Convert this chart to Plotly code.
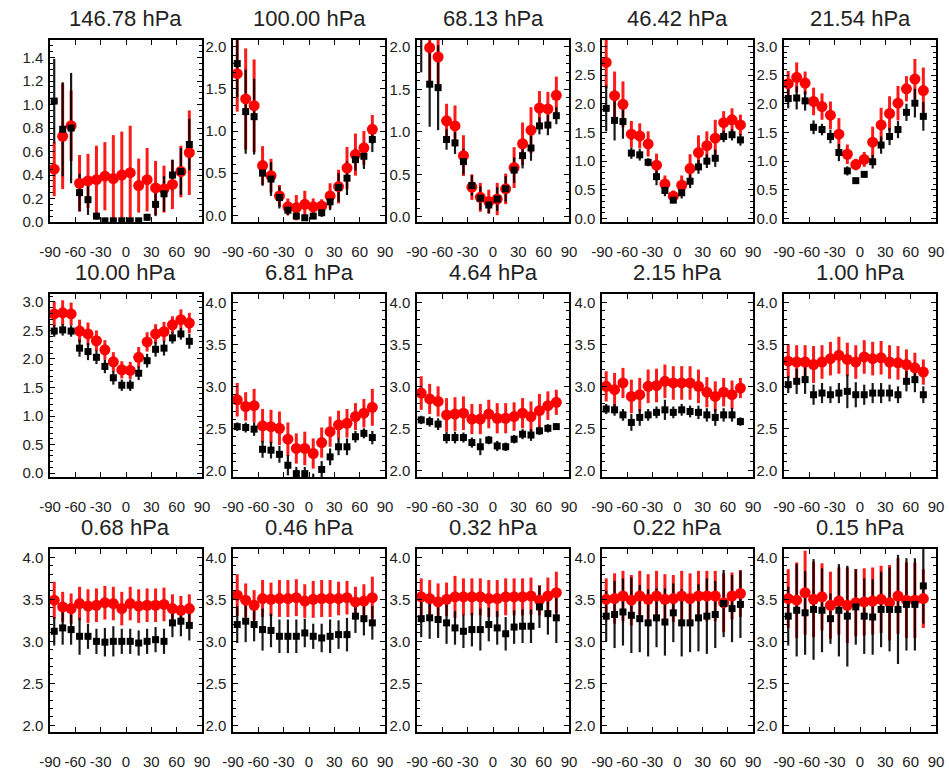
import plotly.graph_objects as go

W, H = 949, 770

lat = [-85, -75, -65, -55, -45, -35, -25, -15, -5, 5, 15, 25, 35, 45, 55, 65, 75]
levels = ["146.78 hPa", "100.00 hPa", "68.13 hPa", "46.42 hPa", "21.54 hPa",
          "10.00 hPa", "6.81 hPa", "4.64 hPa", "2.15 hPa", "1.00 hPa",
          "0.68 hPa", "0.46 hPa", "0.32 hPa", "0.22 hPa", "0.15 hPa"]
x_ticks = [-90, -60, -30, 0, 30, 60, 90]

# 146.78 hPa
p1_red = [0.45, 0.73, 0.82, 0.33, 0.35, 0.36, 0.39, 0.37, 0.40, 0.42, 0.31, 0.36, 0.29, 0.28, 0.32, 0.43, 0.59]
p1_red_err = [0.23, 0.45, 0.30, 0.24, 0.23, 0.29, 0.29, 0.37, 0.37, 0.40, 0.23, 0.27, 0.23, 0.20, 0.21, 0.22, 0.36]
p1_blk = [1.03, 0.79, 0.80, 0.25, 0.19, 0.05, 0.01, 0.01, 0.01, 0.01, 0.01, 0.04, 0.15, 0.24, 0.40, 0.43, 0.66]
p1_blk_err = [0.36, 0.40, 0.47, 0.16, 0.13, 0.03, 0.0, 0.0, 0.0, 0.0, 0.0, 0.03, 0.10, 0.15, 0.13, 0.20, 0.22]
# 100.00 hPa
p2_red = [1.68, 1.38, 1.30, 0.59, 0.47, 0.23, 0.10, 0.09, 0.13, 0.10, 0.11, 0.23, 0.34, 0.56, 0.72, 0.80, 1.02]
p2_red_err = [0.45, 0.60, 0.55, 0.23, 0.20, 0.13, 0.10, 0.15, 0.16, 0.10, 0.08, 0.15, 0.20, 0.25, 0.25, 0.20, 0.17]
p2_blk = [1.80, 1.23, 1.17, 0.50, 0.43, 0.21, 0.06, -0.01, -0.03, -0.01, 0.03, 0.16, 0.33, 0.44, 0.66, 0.70, 0.90]
p2_blk_err = [0.40, 0.50, 0.45, 0.15, 0.20, 0.13, 0.06, 0.02, 0.02, 0.02, 0.05, 0.10, 0.17, 0.20, 0.13, 0.15, 0.15]
# 68.13 hPa
p3_red = [2.70, 1.99, 1.88, 1.13, 1.07, 0.72, 0.35, 0.23, 0.18, 0.21, 0.33, 0.58, 0.86, 1.02, 1.28, 1.27, 1.43]
p3_red_err = [0.50, 0.40, 0.35, 0.20, 0.24, 0.24, 0.15, 0.17, 0.14, 0.19, 0.18, 0.24, 0.25, 0.27, 0.20, 0.20, 0.22]
p3_blk = [2.35, 1.56, 1.52, 0.91, 0.87, 0.65, 0.37, 0.22, 0.14, 0.21, 0.33, 0.55, 0.72, 0.81, 1.07, 1.08, 1.19]
p3_blk_err = [0.65, 0.50, 0.50, 0.12, 0.13, 0.15, 0.12, 0.14, 0.10, 0.14, 0.15, 0.15, 0.15, 0.15, 0.10, 0.12, 0.10]
# 46.42 hPa
p4_red = [2.72, 2.14, 1.99, 1.47, 1.44, 1.30, 0.93, 0.60, 0.39, 0.58, 0.87, 1.15, 1.27, 1.40, 1.67, 1.72, 1.63]
p4_red_err = [0.45, 0.42, 0.40, 0.23, 0.22, 0.22, 0.20, 0.15, 0.10, 0.17, 0.25, 0.30, 0.25, 0.32, 0.20, 0.20, 0.18]
p4_blk = [1.92, 1.71, 1.69, 1.14, 1.11, 0.98, 0.73, 0.49, 0.32, 0.45, 0.65, 0.90, 1.00, 1.05, 1.43, 1.46, 1.37]
p4_blk_err = [0.40, 0.35, 0.30, 0.10, 0.10, 0.07, 0.15, 0.10, 0.03, 0.10, 0.12, 0.12, 0.12, 0.15, 0.10, 0.10, 0.10]
# 21.54 hPa
p5_red = [2.35, 2.46, 2.36, 2.04, 1.95, 1.80, 1.47, 1.12, 0.94, 1.03, 1.33, 1.63, 1.83, 2.01, 2.26, 2.43, 2.23]
p5_red_err = [0.22, 0.26, 0.20, 0.24, 0.23, 0.24, 0.28, 0.17, 0.10, 0.13, 0.27, 0.30, 0.30, 0.30, 0.22, 0.35, 0.40]
p5_blk = [2.09, 2.10, 2.05, 1.59, 1.55, 1.43, 1.15, 0.83, 0.66, 0.77, 0.99, 1.28, 1.43, 1.55, 1.85, 2.01, 1.78]
p5_blk_err = [0.17, 0.20, 0.17, 0.12, 0.10, 0.12, 0.15, 0.08, 0.03, 0.05, 0.12, 0.15, 0.15, 0.15, 0.15, 0.25, 0.25]
# 10.00 hPa
p6_red = [2.79, 2.81, 2.79, 2.49, 2.44, 2.32, 2.16, 1.95, 1.81, 1.80, 2.03, 2.30, 2.44, 2.48, 2.60, 2.69, 2.63]
p6_red_err = [0.22, 0.22, 0.20, 0.20, 0.20, 0.18, 0.17, 0.17, 0.15, 0.15, 0.18, 0.17, 0.17, 0.17, 0.15, 0.18, 0.18]
p6_blk = [2.49, 2.51, 2.49, 2.19, 2.13, 2.03, 1.87, 1.67, 1.54, 1.54, 1.75, 1.97, 2.17, 2.19, 2.37, 2.44, 2.31]
p6_blk_err = [0.10, 0.10, 0.10, 0.15, 0.15, 0.12, 0.12, 0.12, 0.10, 0.10, 0.12, 0.12, 0.13, 0.13, 0.10, 0.10, 0.13]
# 6.81 hPa
p7_red = [2.84, 2.76, 2.77, 2.53, 2.52, 2.50, 2.37, 2.26, 2.26, 2.20, 2.33, 2.46, 2.54, 2.56, 2.64, 2.68, 2.75]
p7_red_err = [0.20, 0.17, 0.20, 0.20, 0.20, 0.20, 0.20, 0.18, 0.20, 0.18, 0.18, 0.18, 0.17, 0.17, 0.16, 0.17, 0.22]
p7_blk = [2.52, 2.51, 2.49, 2.25, 2.24, 2.19, 2.06, 1.96, 1.96, 1.86, 2.01, 2.16, 2.28, 2.28, 2.40, 2.44, 2.39]
p7_blk_err = [0.05, 0.06, 0.08, 0.10, 0.10, 0.10, 0.12, 0.08, 0.08, 0.10, 0.10, 0.10, 0.10, 0.10, 0.07, 0.06, 0.08]
# 4.64 hPa
p8_red = [2.92, 2.85, 2.82, 2.66, 2.67, 2.68, 2.61, 2.61, 2.67, 2.62, 2.62, 2.64, 2.68, 2.64, 2.71, 2.77, 2.81]
p8_red_err = [0.20, 0.18, 0.18, 0.20, 0.20, 0.20, 0.18, 0.18, 0.17, 0.18, 0.18, 0.17, 0.18, 0.18, 0.20, 0.17, 0.15]
p8_blk = [2.60, 2.58, 2.55, 2.39, 2.39, 2.39, 2.33, 2.28, 2.36, 2.29, 2.28, 2.37, 2.43, 2.42, 2.47, 2.50, 2.52]
p8_blk_err = [0.05, 0.06, 0.07, 0.07, 0.07, 0.06, 0.06, 0.10, 0.05, 0.06, 0.05, 0.05, 0.06, 0.07, 0.05, 0.05, 0.04]
# 2.15 hPa
p9_red = [3.00, 2.96, 3.04, 2.88, 2.90, 3.00, 3.01, 3.06, 3.04, 3.04, 3.04, 3.00, 2.93, 2.88, 2.93, 2.90, 2.98]
p9_red_err = [0.18, 0.20, 0.18, 0.20, 0.20, 0.20, 0.20, 0.20, 0.20, 0.20, 0.20, 0.20, 0.18, 0.18, 0.17, 0.17, 0.12]
p9_blk = [2.73, 2.72, 2.66, 2.57, 2.63, 2.66, 2.69, 2.72, 2.69, 2.72, 2.70, 2.69, 2.66, 2.63, 2.66, 2.66, 2.58]
p9_blk_err = [0.06, 0.07, 0.07, 0.10, 0.10, 0.07, 0.07, 0.12, 0.07, 0.07, 0.07, 0.08, 0.08, 0.10, 0.08, 0.08, 0.05]
# 1.00 hPa
p10_red = [3.30, 3.29, 3.29, 3.26, 3.29, 3.33, 3.37, 3.32, 3.29, 3.35, 3.33, 3.34, 3.29, 3.28, 3.26, 3.22, 3.17]
p10_red_err = [0.20, 0.20, 0.20, 0.22, 0.20, 0.20, 0.22, 0.20, 0.20, 0.20, 0.20, 0.20, 0.20, 0.20, 0.18, 0.18, 0.15]
p10_blk = [3.02, 3.06, 3.08, 2.90, 2.92, 2.90, 2.92, 2.94, 2.90, 2.90, 2.92, 2.92, 2.92, 2.90, 3.06, 3.08, 2.90]
p10_blk_err = [0.10, 0.15, 0.17, 0.12, 0.12, 0.10, 0.12, 0.20, 0.15, 0.12, 0.12, 0.12, 0.10, 0.10, 0.12, 0.15, 0.10]
# 0.68 hPa
p11_red = [3.49, 3.41, 3.39, 3.45, 3.42, 3.43, 3.46, 3.45, 3.39, 3.45, 3.42, 3.43, 3.43, 3.44, 3.39, 3.37, 3.39]
p11_red_err = [0.22, 0.18, 0.18, 0.20, 0.20, 0.20, 0.20, 0.20, 0.20, 0.20, 0.20, 0.20, 0.20, 0.20, 0.17, 0.17, 0.17]
p11_blk = [3.12, 3.16, 3.14, 3.06, 3.06, 3.00, 2.99, 3.00, 3.00, 3.00, 2.98, 3.00, 3.02, 3.00, 3.22, 3.24, 3.19]
p11_blk_err = [0.17, 0.20, 0.18, 0.22, 0.15, 0.15, 0.17, 0.18, 0.15, 0.15, 0.15, 0.15, 0.15, 0.15, 0.17, 0.18, 0.18]
# 0.46 hPa
p12_red = [3.55, 3.49, 3.43, 3.51, 3.50, 3.51, 3.51, 3.52, 3.48, 3.50, 3.51, 3.51, 3.51, 3.52, 3.47, 3.48, 3.52]
p12_red_err = [0.25, 0.20, 0.18, 0.22, 0.20, 0.22, 0.22, 0.22, 0.20, 0.22, 0.22, 0.22, 0.20, 0.20, 0.18, 0.20, 0.25]
p12_blk = [3.20, 3.24, 3.20, 3.14, 3.13, 3.06, 3.06, 3.06, 3.10, 3.06, 3.04, 3.06, 3.08, 3.08, 3.30, 3.27, 3.22]
p12_blk_err = [0.22, 0.25, 0.20, 0.25, 0.20, 0.20, 0.20, 0.20, 0.17, 0.15, 0.17, 0.20, 0.17, 0.20, 0.20, 0.20, 0.20]
# 0.32 hPa
p13_red = [3.53, 3.51, 3.47, 3.50, 3.53, 3.53, 3.53, 3.53, 3.51, 3.51, 3.53, 3.53, 3.53, 3.54, 3.49, 3.54, 3.58]
p13_red_err = [0.22, 0.22, 0.22, 0.20, 0.25, 0.22, 0.22, 0.22, 0.22, 0.22, 0.22, 0.22, 0.22, 0.22, 0.18, 0.22, 0.25]
p13_blk = [3.27, 3.28, 3.26, 3.22, 3.16, 3.12, 3.14, 3.14, 3.20, 3.16, 3.09, 3.17, 3.18, 3.18, 3.41, 3.33, 3.28]
p13_blk_err = [0.22, 0.25, 0.22, 0.25, 0.20, 0.20, 0.20, 0.25, 0.20, 0.20, 0.20, 0.20, 0.20, 0.20, 0.25, 0.25, 0.30]
# 0.22 hPa
p14_red = [3.50, 3.51, 3.54, 3.49, 3.54, 3.50, 3.54, 3.50, 3.51, 3.54, 3.51, 3.54, 3.54, 3.54, 3.46, 3.54, 3.57]
p14_red_err = [0.25, 0.30, 0.30, 0.30, 0.30, 0.30, 0.30, 0.30, 0.28, 0.30, 0.30, 0.30, 0.30, 0.30, 0.35, 0.28, 0.28]
p14_blk = [3.30, 3.32, 3.35, 3.31, 3.27, 3.22, 3.28, 3.23, 3.34, 3.22, 3.22, 3.28, 3.30, 3.32, 3.45, 3.39, 3.44]
p14_blk_err = [0.30, 0.40, 0.40, 0.45, 0.40, 0.40, 0.35, 0.40, 0.35, 0.40, 0.35, 0.40, 0.45, 0.40, 0.40, 0.40, 0.40]
# 0.15 hPa
p15_red = [3.51, 3.49, 3.58, 3.50, 3.53, 3.43, 3.48, 3.43, 3.46, 3.47, 3.48, 3.50, 3.46, 3.54, 3.49, 3.49, 3.51]
p15_red_err = [0.35, 0.45, 0.50, 0.45, 0.40, 0.40, 0.40, 0.45, 0.40, 0.40, 0.40, 0.40, 0.45, 0.45, 0.45, 0.45, 0.35]
p15_blk = [3.30, 3.37, 3.34, 3.38, 3.37, 3.27, 3.37, 3.30, 3.41, 3.30, 3.29, 3.38, 3.38, 3.38, 3.44, 3.44, 3.66]
p15_blk_err = [0.35, 0.55, 0.50, 0.60, 0.50, 0.30, 0.55, 0.60, 0.45, 0.45, 0.45, 0.45, 0.50, 0.65, 0.55, 0.55, 0.45]

panels = [
    (p1_red, p1_red_err, p1_blk, p1_blk_err),
    (p2_red, p2_red_err, p2_blk, p2_blk_err),
    (p3_red, p3_red_err, p3_blk, p3_blk_err),
    (p4_red, p4_red_err, p4_blk, p4_blk_err),
    (p5_red, p5_red_err, p5_blk, p5_blk_err),
    (p6_red, p6_red_err, p6_blk, p6_blk_err),
    (p7_red, p7_red_err, p7_blk, p7_blk_err),
    (p8_red, p8_red_err, p8_blk, p8_blk_err),
    (p9_red, p9_red_err, p9_blk, p9_blk_err),
    (p10_red, p10_red_err, p10_blk, p10_blk_err),
    (p11_red, p11_red_err, p11_blk, p11_blk_err),
    (p12_red, p12_red_err, p12_blk, p12_blk_err),
    (p13_red, p13_red_err, p13_blk, p13_blk_err),
    (p14_red, p14_red_err, p14_blk, p14_blk_err),
    (p15_red, p15_red_err, p15_blk, p15_blk_err),
]

# axis settings (range, major step, minor step)
y_axes = [
    ([0.0, 1.55], 0.2, 0.05), ([-0.08, 2.08], 0.5, 0.1), ([-0.06, 2.08], 0.5, 0.1),
    ([-0.06, 3.11], 0.5, 0.1), ([-0.06, 3.11], 0.5, 0.1),
    ([-0.07, 3.14], 0.5, 0.1), ([1.92, 4.10], 0.5, 0.1), ([1.92, 4.10], 0.5, 0.1),
    ([1.92, 4.10], 0.5, 0.1), ([1.92, 4.10], 0.5, 0.1),
    ([1.92, 4.10], 0.5, 0.1), ([1.92, 4.10], 0.5, 0.1), ([1.92, 4.10], 0.5, 0.1),
    ([1.92, 4.10], 0.5, 0.1), ([1.92, 4.10], 0.5, 0.1),
]

col_px = [(50, 202), (233, 385), (417, 569), (602, 753), (784, 936)]
row_px = [(40, 222), (294, 477), (549, 732)]

FONT = "Liberation Sans, Arial, sans-serif"
fig = go.Figure()
layout = dict(
    width=W, height=H, margin=dict(l=0, r=0, t=0, b=0, autoexpand=False),
    paper_bgcolor="white", plot_bgcolor="white", showlegend=False,
    font=dict(family=FONT, color="#222222"),
)
annotations = []

for i, (red, red_err, blk, blk_err) in enumerate(panels):
    r, c = divmod(i, 5)
    n = i + 1
    xa = "x" if n == 1 else f"x{n}"
    ya = "y" if n == 1 else f"y{n}"
    x0, x1 = col_px[c]
    yt, yb = row_px[r]
    common = dict(
        showline=True, linecolor="black", linewidth=1.5, mirror="ticks",
        ticks="inside", ticklen=5, tickwidth=1, tickcolor="black",
        showgrid=False, zeroline=False, automargin=False,
        tickfont=dict(family=FONT, size=15, color="#222222"),
    )
    layout["xaxis" if n == 1 else f"xaxis{n}"] = dict(
        domain=[x0 / W, x1 / W], anchor=ya, range=[-90, 90],
        tickvals=x_ticks, ticktext=[str(v) for v in x_ticks],
        ticklabelstandoff=15, **common,
    )
    rng, dt, mdt = y_axes[i]
    layout["yaxis" if n == 1 else f"yaxis{n}"] = dict(
        domain=[1 - yb / H, 1 - yt / H], anchor=xa, range=rng,
        dtick=dt, tick0=0, tickformat=".1f", ticklabelstandoff=2,
        minor=dict(ticks="inside", ticklen=3, dtick=mdt, tick0=0, tickcolor="black"),
        **common,
    )
    # red error bars (beneath, wider)
    fig.add_trace(go.Scatter(
        x=lat, y=red, xaxis=xa, yaxis=ya, mode="markers",
        marker=dict(size=1, color="rgba(0,0,0,0)"),
        error_y=dict(type="data", array=red_err, visible=True,
                     color="#ff1a1a", thickness=3, width=0),
        hoverinfo="skip",
    ))
    # black error bars (thinner, on top of red bars)
    fig.add_trace(go.Scatter(
        x=lat, y=blk, xaxis=xa, yaxis=ya, mode="markers",
        marker=dict(size=1, color="rgba(0,0,0,0)"),
        error_y=dict(type="data", array=blk_err, visible=True, color="rgba(0,0,0,0.9)",
                     thickness=2.2, width=0),
        hoverinfo="skip",
    ))
    # red circles
    fig.add_trace(go.Scatter(
        x=lat, y=red, xaxis=xa, yaxis=ya, mode="markers",
        marker=dict(symbol="circle", size=11, color="#ff0000", line=dict(width=0)),
    ))
    # black squares on top
    fig.add_trace(go.Scatter(
        x=lat, y=blk, xaxis=xa, yaxis=ya, mode="markers",
        marker=dict(symbol="square", size=7, color="black", line=dict(width=0)),
    ))
    annotations.append(dict(
        text=levels[i], xref="paper", yref="paper",
        x=(x0 + x1) / 2 / W, y=1 - (yt - 22) / H,
        xanchor="center", yanchor="middle", showarrow=False,
        font=dict(family=FONT, size=22, color="#222222"),
    ))

layout["annotations"] = annotations
fig.update_layout(**layout)
fig.write_html("out.html")
